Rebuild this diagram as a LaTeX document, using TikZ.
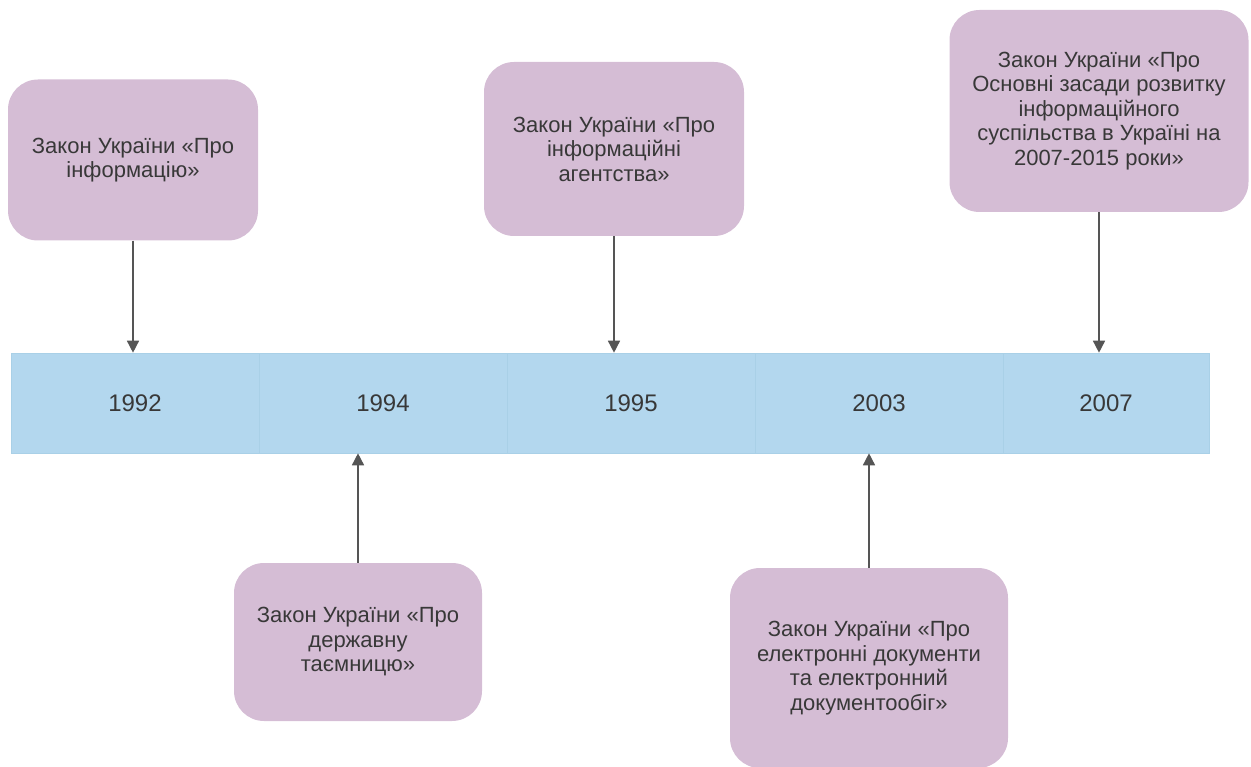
\documentclass[tikz,border=0pt]{standalone}
\usepackage{fontspec}
\setmainfont{Liberation Sans}
\usetikzlibrary{arrows.meta}
\definecolor{lawpink}{HTML}{D5BDD5}
\definecolor{barblue}{HTML}{B3D7EE}
\definecolor{barline}{HTML}{A9D0E7}
\definecolor{textdark}{HTML}{383838}
\definecolor{arrowgray}{HTML}{555555}

\begin{document}
\begin{tikzpicture}[x=1pt,y=-1pt,
  law/.style={fill=lawpink, rounded corners=30pt, align=center, text=textdark,
    font=\fontsize{22}{24.5}\selectfont, inner sep=0pt},
  year/.style={fill=barblue, draw=barline, line width=0.6pt, minimum height=100pt,
    inner sep=0pt, text=textdark, font=\fontsize{24}{28}\selectfont},
  link/.style={draw=arrowgray, line width=1.5pt, -{Triangle[width=12pt,length=12pt]}}]
  \useasboundingbox (0,0) rectangle (1251,767);

  % timeline bar
  \node[year, minimum width=248pt] (y1992) at (135,403) {1992};
  \node[year, minimum width=248pt] (y1994) at (383,403) {1994};
  \node[year, minimum width=248pt] (y1995) at (631,403) {1995};
  \node[year, minimum width=248pt] (y2003) at (879,403) {2003};
  \node[year, minimum width=206pt] (y2007) at (1106,403) {2007};

  % laws above the bar
  \node[law, minimum width=250pt, minimum height=161pt] (info) at (133,160)
    {Закон України «Про\\інформацію»};
  \node[law, minimum width=260pt, minimum height=174pt] (agency) at (614,149)
    {Закон України «Про\\інформаційні\\агентства»};
  \node[law, minimum width=299pt, minimum height=202pt] (society) at (1099,111)
    {Закон України «Про\\Основні засади розвитку\\інформаційного\\суспільства в Україні на\\2007-2015 роки»};

  % laws below the bar
  \node[law, minimum width=248pt, minimum height=158pt] (secret) at (358,642)
    {Закон України «Про\\державну\\таємницю»};
  \node[law, minimum width=278pt, minimum height=200pt] (edoc) at (869,668)
    {Закон України «Про\\електронні документи\\та електронний\\документообіг»};

  \draw[link] (info.south) -- (info.south |- y1992.north);
  \draw[link] (agency.south) -- (agency.south |- y1995.north);
  \draw[link] (society.south) -- (society.south |- y2007.north);
  \draw[link] (secret.north) -- (secret.north |- y1994.south);
  \draw[link] (edoc.north) -- (edoc.north |- y2003.south);
\end{tikzpicture}
\end{document}
